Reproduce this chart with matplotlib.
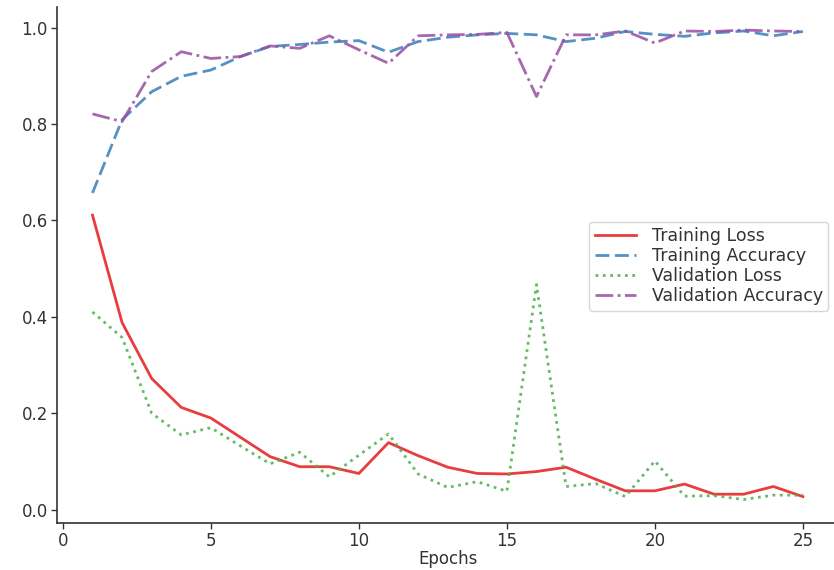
import numpy as np
import matplotlib.pyplot as plt

# values
epochs = list(range(1, 26))
train_loss = [0.611, 0.388, 0.272, 0.212, 0.190, 0.150, 0.110, 0.089, 0.089, 0.075,
              0.139, 0.112, 0.088, 0.075, 0.074, 0.079, 0.088, 0.063, 0.039, 0.039,
              0.053, 0.032, 0.032, 0.048, 0.027]
train_acc = [0.657, 0.809, 0.867, 0.899, 0.912, 0.940, 0.961, 0.965, 0.970, 0.973,
             0.949, 0.971, 0.980, 0.985, 0.988, 0.985, 0.971, 0.978, 0.992, 0.986,
             0.982, 0.989, 0.993, 0.983, 0.992]
val_loss = [0.410, 0.357, 0.200, 0.155, 0.170, 0.132, 0.095, 0.119, 0.068, 0.113,
            0.157, 0.074, 0.046, 0.058, 0.038, 0.467, 0.048, 0.054, 0.027, 0.101,
            0.028, 0.029, 0.021, 0.030, 0.030]
val_acc = [0.821, 0.805, 0.909, 0.950, 0.936, 0.940, 0.962, 0.957, 0.983, 0.954,
           0.926, 0.983, 0.985, 0.986, 0.990, 0.857, 0.985, 0.985, 0.993, 0.968,
           0.993, 0.992, 0.995, 0.993, 0.992]

dark = '#333333'
plt.rcParams['font.size'] = 12
plt.rcParams['text.color'] = dark
plt.rcParams['xtick.color'] = dark
plt.rcParams['ytick.color'] = dark
plt.rcParams['axes.edgecolor'] = dark
plt.rcParams['axes.labelcolor'] = dark

fig = plt.figure(figsize=(8.34, 5.70), dpi=100)
ax = fig.add_axes([0.0683, 0.0825, 0.937, 0.906])

ax.plot(epochs, train_loss, color='#e41a1c', alpha=0.85, lw=2, ls='-', label='Training Loss')
ax.plot(epochs, train_acc, color='#377eb8', alpha=0.85, lw=2, ls=(0, (5, 2)), label='Training Accuracy')
ax.plot(epochs, val_loss, color='#4daf4a', alpha=0.85, lw=2, ls=':', label='Validation Loss')
ax.plot(epochs, val_acc, color='#984ea3', alpha=0.85, lw=2, ls='-.', label='Validation Accuracy')

ax.spines['top'].set_visible(False)
ax.spines['right'].set_visible(False)
ax.spines['left'].set_linewidth(1.2)
ax.spines['bottom'].set_linewidth(1.2)
ax.set_xticks([0, 5, 10, 15, 20, 25])
ax.set_yticks([0.0, 0.2, 0.4, 0.6, 0.8, 1.0])
ax.tick_params(length=4, width=1, pad=2.5, labelsize=12)
ax.set_xlabel('Epochs', fontsize=12, labelpad=0)

ax.legend(loc='upper right', bbox_to_anchor=(0.987, 0.583), borderaxespad=0,
          fontsize=12.5, handlelength=2.4, handletextpad=0.9, labelspacing=0.12,
          borderpad=0.3)

plt.savefig('out.png', dpi=100)
